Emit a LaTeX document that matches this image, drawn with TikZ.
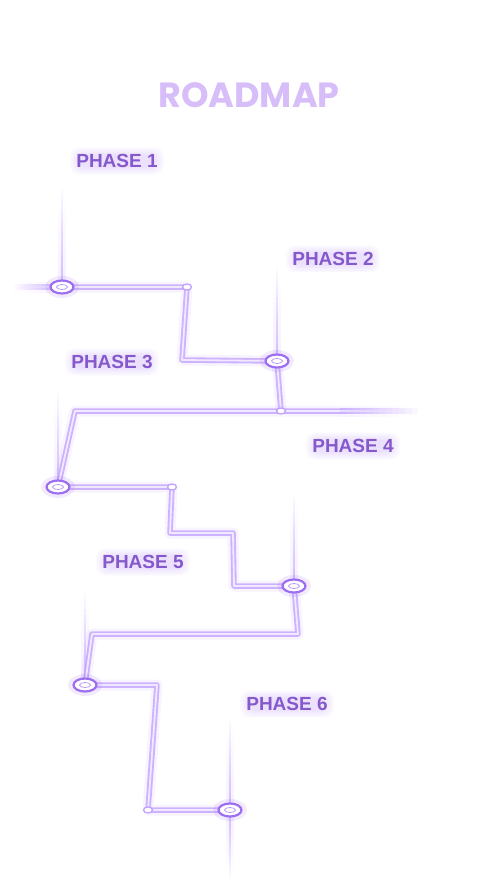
\documentclass[tikz,border=0pt]{standalone}
\usepackage{fontspec}
\setmainfont{Liberation Sans}
\newfontfamily\roadfont{Poppins}
\usetikzlibrary{calc,shapes.geometric}
\definecolor{lineedge}{HTML}{BF9CFF}
\definecolor{linecore}{HTML}{F1E9FF}
\definecolor{ringc}{HTML}{9E6EF2}
\definecolor{titlec}{HTML}{D7BEF9}
\definecolor{phasec}{HTML}{8558CC}
\definecolor{phaseglow}{HTML}{C4A6F7}
\newcommand{\glowpath}[1]{%
  \draw[lineedge,line width=11pt,opacity=0.12,line join=round] #1;
  \draw[lineedge,line width=5.5pt,opacity=0.75,line join=round] #1;
  \draw[linecore,line width=1.8pt,line join=round] #1;}
% fading straight segment from (#1) (strong) to (#2) (faint)
\newcommand{\fadeseg}[2]{%
  \foreach \i in {0,...,11}{%
    \pgfmathsetmacro{\op}{0.75*(1-\i/12)}
    \pgfmathsetmacro{\opg}{0.12*(1-\i/12)}
    \draw[lineedge,line width=5.5pt,opacity=\op]
      ($(#1)!{\i/12}!(#2)$) -- ($(#1)!{(\i+1)/12}!(#2)$);
    \draw[lineedge,line width=11pt,opacity=\opg]
      ($(#1)!{\i/12}!(#2)$) -- ($(#1)!{(\i+1)/12}!(#2)$);
    \draw[linecore,line width=1.8pt,opacity=\op]
      ($(#1)!{\i/12}!(#2)$) -- ($(#1)!{(\i+1)/12}!(#2)$);
  }}
% vertical beam from (#1) faint to (#2) strong
\newcommand{\beam}[2]{%
  \foreach \i in {0,...,15}{%
    \pgfmathsetmacro{\op}{0.05+0.6*\i/15}
    \pgfmathsetmacro{\opg}{0.15*\i/15}
    \draw[lineedge,line width=2.6pt,opacity=\op]
      ($(#1)!{\i/16}!(#2)$) -- ($(#1)!{(\i+1)/16}!(#2)$);
    \draw[lineedge,line width=8pt,opacity=\opg]
      ($(#1)!{\i/16}!(#2)$) -- ($(#1)!{(\i+1)/16}!(#2)$);
  }}
\tikzset{
  ringnode/.style={ellipse,draw=ringc,line width=2.2pt,fill=white,
    minimum width=23pt,minimum height=13pt,inner sep=0pt},
  ringinner/.style={ellipse,draw=ringc!70,line width=0.8pt,
    minimum width=11pt,minimum height=5pt,inner sep=0pt},
  dotnode/.style={ellipse,draw=lineedge,line width=1.2pt,fill=white,
    minimum width=9pt,minimum height=6pt,inner sep=0pt},
  phasetext/.style={font=\bfseries\fontsize{19}{19}\selectfont,text=phasec,inner sep=0pt},
  titletext/.style={font=\roadfont\bfseries\fontsize{35}{35}\selectfont,text=titlec,inner sep=0pt}
}
\newcommand{\phaselabel}[3]{%
  \foreach \g in {0,...,7}{%
    \fill[phaseglow,opacity=0.05,rounded corners=9pt]
      ($(#2)+(-38-\g*1.3,-6-\g*1.1)$) rectangle ($(#2)+(38+\g*1.3,6+\g*1.1)$);}
  \node[phasetext] (#1) at (#2) {#3};}
\begin{document}
\begin{tikzpicture}[x=1pt,y=-1pt]
\useasboundingbox (0,0) rectangle (500,889);
% key points
\coordinate (s1) at (15,287);
\coordinate (n1) at (62,287);
\coordinate (d1) at (187,287);
\coordinate (c1) at (182,360);
\coordinate (n2) at (277,361);
\coordinate (d2) at (281,411);
\coordinate (c2) at (75,411);
\coordinate (f2) at (340,411);
\coordinate (e2) at (418,411);
\coordinate (n3) at (58,487);
\coordinate (d3) at (172,487);
\coordinate (c3) at (170,533);
\coordinate (c4) at (233,533);
\coordinate (c5) at (234,586);
\coordinate (n4) at (294,586);
\coordinate (c6) at (298,634);
\coordinate (c7) at (92,634);
\coordinate (n5) at (85,685);
\coordinate (c8) at (157,685);
\coordinate (d5) at (148,810);
\coordinate (n6) at (230,810);
% beam ends
\coordinate (b1) at (62,188);
\coordinate (b2) at (277,268);
\coordinate (b3) at (58,392);
\coordinate (b4) at (294,495);
\coordinate (b5) at (85,592);
\coordinate (b6) at (230,718);
\coordinate (b7) at (230,878);
% labels (with soft glow)
\phaselabel{p1}{117,161}{PHASE 1}
\phaselabel{p2}{333,259}{PHASE 2}
\phaselabel{p3}{112,362}{PHASE 3}
\phaselabel{p4}{353,446}{PHASE 4}
\phaselabel{p5}{143,562}{PHASE 5}
\phaselabel{p6}{287,704}{PHASE 6}
% beams
\beam{b1}{n1}
\beam{b2}{n2}
\beam{b3}{n3}
\beam{b4}{n4}
\beam{b5}{n5}
\beam{b6}{n6}
\beam{b7}{n6}
% leading / trailing fades
\fadeseg{n1}{s1}
\fadeseg{f2}{e2}
% main path
\glowpath{(n1) -- (d1) -- (c1) -- (n2) -- (d2)}
\glowpath{(f2) -- (d2) -- (c2) -- (n3) -- (d3) -- (c3) -- (c4) -- (c5) -- (n4) -- (c6) -- (c7) -- (n5) -- (c8) -- (d5) -- (n6)}
% dots
\node[dotnode] (dot1) at (d1) {};
\node[dotnode] (dot2) at (d2) {};
\node[dotnode] (dot3) at (d3) {};
\node[dotnode] (dot5) at (d5) {};
% rings
\foreach \k in {1,...,6}{%
  \fill[ringc,opacity=0.14] (n\k) ellipse (17pt and 11pt);
  \node[ringnode] (r\k) at (n\k) {};
  \node[ringinner] (ri\k) at (n\k) {};
}
% title
\node[titletext] (title) at (249,95) {ROADMAP};
\end{tikzpicture}
\end{document}
